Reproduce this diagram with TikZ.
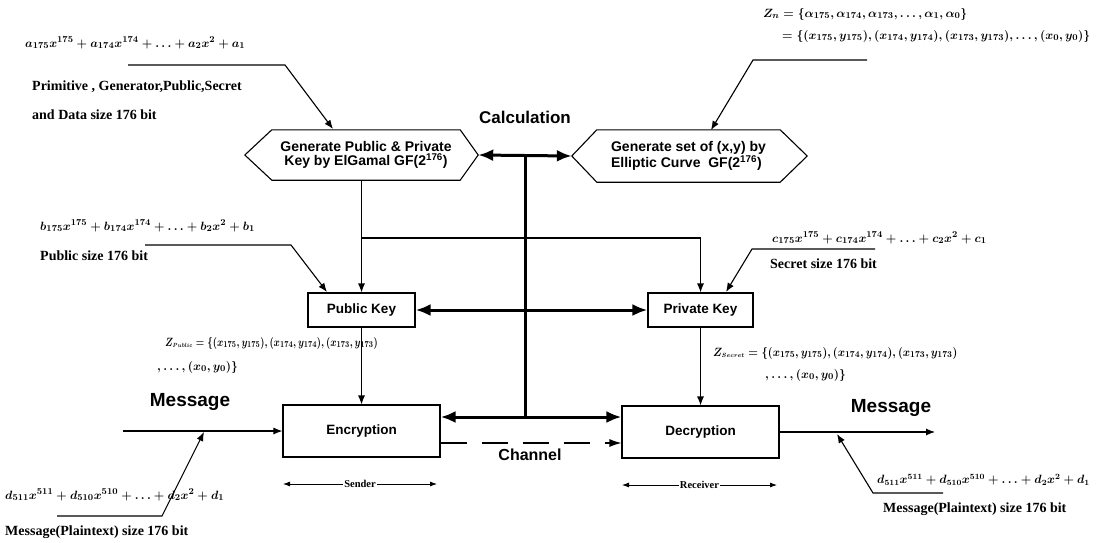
\documentclass[tikz,border=0pt]{standalone}
\usepackage{fontspec}
\setmainfont{Liberation Serif}
\newfontfamily\headfont{Liberation Sans}
\usetikzlibrary{arrows.meta,calc}

\tikzset{
  frame/.style={draw, line width=1.1pt},
  procbox/.style={frame, inner sep=0pt, align=center,
    font=\headfont\bfseries\fontsize{13.5}{14}\selectfont},
  hexlabel/.style={inner sep=0pt, align=center,
    font=\headfont\bfseries\fontsize{14}{14}\selectfont},
  wire/.style={line width=1.1pt},
  arrowwire/.style={wire, -{Latex[length=9pt,width=7pt]}},
  bus/.style={line width=3pt},
  busarrows/.style={bus, {Latex[length=15pt,width=12pt]}-{Latex[length=15pt,width=12pt]}},
  formula/.style={inner sep=0pt, anchor=west, font=\fontsize{12.5}{14}\selectfont\boldmath},
  note/.style={inner sep=0pt, anchor=west, font=\bfseries\fontsize{14}{16}\selectfont},
  heading/.style={inner sep=0pt, font=\headfont\bfseries\fontsize{17}{19}\selectfont},
  span/.style={line width=0.8pt, {Latex[length=7pt,width=5pt]}-{Latex[length=7pt,width=5pt]}},
  spanlabel/.style={fill=white, inner sep=1pt, font=\bfseries\fontsize{10.5}{12}\selectfont},
}

\begin{document}
\begin{tikzpicture}[x=1pt,y=-1pt]
\useasboundingbox (0,0) rectangle (1099,542);
\fill[white] (0,0) rectangle (1099,542);

% ---- key generation blocks (hexagons) ----
\node[hexlabel, minimum width=188pt, minimum height=50pt] (hexA) at (366,155)
  {Generate Public \& Private\\Key by ElGamal GF(2\textsuperscript{176})};
\draw[frame] (hexA.north west) -- (hexA.north east) -- ($(hexA.east)+(18,0)$)
  -- (hexA.south east) -- (hexA.south west) -- ($(hexA.west)+(-27,0)$) -- cycle;
\coordinate (hexAtip) at ($(hexA.east)+(18,0)$);

\node[hexlabel, align=left, minimum width=183pt, minimum height=52pt] (hexB) at (688.5,156)
  {Generate set of (x,y) by\\Elliptic Curve\ \ GF(2\textsuperscript{176})};
\draw[frame] (hexB.north west) -- (hexB.north east) -- ($(hexB.east)+(27,0)$)
  -- (hexB.south east) -- (hexB.south west) -- ($(hexB.west)+(-25,0)$) -- cycle;
\coordinate (hexBtip) at ($(hexB.west)+(-25,0)$);

\node[heading] (calc) at (525,117) {Calculation};

% ---- key and cipher blocks ----
\node[procbox, minimum width=107pt, minimum height=34pt] (pub) at (361.5,310) {Public Key};
\node[procbox, minimum width=105pt, minimum height=34pt] (priv) at (700.5,310) {Private Key};
\node[procbox, minimum width=157pt, minimum height=52pt] (enc) at (361.5,431) {Encryption};
\node[procbox, minimum width=157pt, minimum height=52pt] (dec) at (700.5,432) {Decryption};

% ---- shared calculation bus ----
\draw[busarrows] (hexAtip) -- (hexBtip);
\coordinate (top) at ($(hexAtip)!0.5!(hexBtip)$);
\coordinate (hub) at (top |- 0,417);
\draw[bus] (top) -- (hub);
\draw[busarrows] (pub.east) -- (priv.west);
\draw[busarrows] (enc.east |- hub) -- (dec.west |- hub);

% ---- key distribution ----
\coordinate (branch) at (pub.north |- 0,238);
\draw[arrowwire] (pub.north |- hexA.south) -- (pub.north);
\draw[arrowwire] (branch) -| (priv.north);
\draw[arrowwire] (pub.south) -- (enc.north);
\draw[arrowwire] (priv.south) -- (dec.north);

% ---- message path ----
\coordinate (msgin) at (123,431);
\coordinate (msgout) at (935,432);
\draw[arrowwire] (msgin) -- (enc.west);
\draw[arrowwire] (dec.east) -- (msgout);
\node[heading, font=\headfont\bfseries\fontsize{19}{21}\selectfont] (msgL) at (190,402) {Message};
\node[heading, font=\headfont\bfseries\fontsize{19}{21}\selectfont] (msgR) at (891,408) {Message};

\draw[wire, dash pattern=on 26pt off 15pt, -{Latex[length=12pt,width=8pt]}]
  ([yshift=-12pt]enc.east) -- ([yshift=-11pt]dec.west);
\node[heading, font=\headfont\bfseries\fontsize{16}{18}\selectfont] (chan) at (530,455) {Channel};

\draw[span] (283,484) -- node[spanlabel] (snd) {Sender} (437,484);
\draw[span] (622,485) -- node[spanlabel] (rcv) {Receiver} (777,485);

% ---- annotations: generator data ----
\node[formula] (fa) at (25,43) {$a_{175}x^{175}+a_{174}x^{174}+\ldots+a_2x^2+a_1$};
\node[note] (na1) at (32,87) {Primitive , Generator,Public,Secret};
\node[note] (na2) at (32,115) {and Data size 176 bit};
\coordinate (la1) at (128,65);
\coordinate (la2) at (285,65);
\coordinate (la3) at (333,129);
\draw[arrowwire] (la1) -- (la2) -- (la3);

% ---- annotations: curve points ----
\node[formula] (fz1) at (763,14) {$Z_n=\{\alpha_{175},\alpha_{174},\alpha_{173},\ldots,\alpha_1,\alpha_0\}$};
\node[formula] (fz2) at (782,36) {$=\{(x_{175},y_{175}),(x_{174},y_{174}),(x_{173},y_{173}),\ldots,(x_0,y_0)\}$};
\coordinate (lz1) at (867,60);
\coordinate (lz2) at (753,60);
\coordinate (lz3) at (711,130);
\draw[arrowwire] (lz1) -- (lz2) -- (lz3);

% ---- annotations: public key ----
\node[formula] (fb) at (40,226) {$b_{175}x^{175}+b_{174}x^{174}+\ldots+b_2x^2+b_1$};
\node[note] (nb) at (40,256) {Public size 176 bit};
\coordinate (lb1) at (145,245);
\coordinate (lb2) at (291,245);
\coordinate (lb3) at (327,292);
\draw[arrowwire] (lb1) -- (lb2) -- (lb3);

% ---- annotations: private key ----
\node[formula] (fc) at (772,238) {$c_{175}x^{175}+c_{174}x^{174}+\ldots+c_2x^2+c_1$};
\node[note] (nc) at (770,264) {Secret size 176 bit};
\coordinate (lc1) at (875,249);
\coordinate (lc2) at (752,249);
\coordinate (lc3) at (726,292);
\draw[arrowwire] (lc1) -- (lc2) -- (lc3);

% ---- annotations: point sets per side ----
\node[formula] (fp1) at (165,343) {\scalebox{0.8}[1]{$Z_{\scriptscriptstyle Public}=\{(x_{175},y_{175}),(x_{174},y_{174}),(x_{173},y_{173})$}};
\node[formula] (fp2) at (157,367) {$,\ldots,(x_0,y_0)\}$};
\node[formula] (fs1) at (713,353) {\scalebox{0.92}[1]{$Z_{\scriptscriptstyle Secret}=\{(x_{175},y_{175}),(x_{174},y_{174}),(x_{173},y_{173})$}};
\node[formula] (fs2) at (765,375) {$,\ldots,(x_0,y_0)\}$};

% ---- annotations: plaintext ----
\node[formula] (fdl) at (5,495) {$d_{511}x^{511}+d_{510}x^{510}+\ldots+d_2x^2+d_1$};
\node[note] (ndl) at (5,532) {Message(Plaintext) size 176 bit};
\coordinate (ld1) at (57,516);
\coordinate (ld2) at (162,516);
\coordinate (ld3) at (204,432);
\draw[arrowwire] (ld1) -- (ld2) -- (ld3);

\node[formula, font=\fontsize{12}{14}\selectfont\boldmath] (fdr) at (877,480) {$d_{511}x^{511}+d_{510}x^{510}+\ldots+d_2x^2+d_1$};
\node[note] (ndr) at (883,509) {Message(Plaintext) size 176 bit};
\coordinate (lr1) at (943,493);
\coordinate (lr2) at (873,493);
\coordinate (lr3) at (837,434);
\draw[arrowwire] (lr1) -- (lr2) -- (lr3);
\end{tikzpicture}
\end{document}
